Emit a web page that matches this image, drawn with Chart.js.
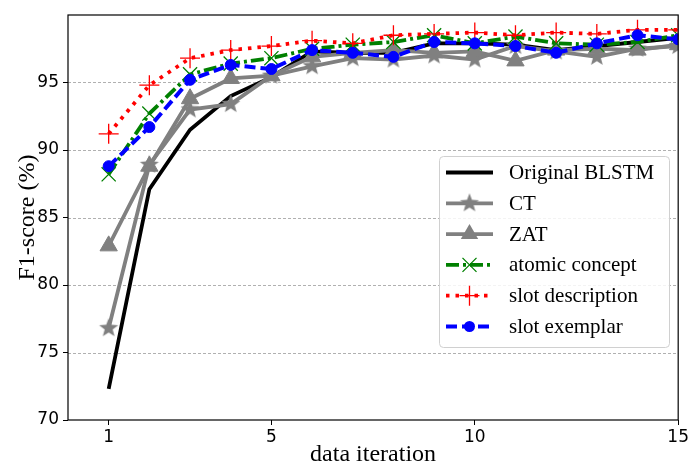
<!DOCTYPE html>
<html>
<head>
<meta charset="utf-8">
<script src="https://cdn.jsdelivr.net/npm/chart.js@4/dist/chart.umd.min.js"></script>
<style>
  html, body { margin: 0; padding: 0; background: #fff; }
  #wrap { width: 691px; height: 467px; }
</style>
</head>
<body>
<div id="wrap"><canvas id="chart"></canvas></div>
<script>
// x values (data iteration)
const iterations = [1, 2, 3, 4, 5, 6, 7, 8, 9, 10, 11, 12, 13, 14, 15];
const xTicks = [1, 5, 10, 15];
const yTicks = [70, 75, 80, 85, 90, 95];

// F1-score per series
const originalBlstm = [72.3, 87.1, 91.5, 94.0, 95.4, 97.3, 97.2, 97.2, 97.9, 97.9, 97.8, 97.4, 97.7, 98.0, 98.3];
const ctScores = [76.8, 88.9, 93.0, 93.4, 95.5, 96.2, 96.8, 96.7, 97.0, 96.7, 97.7, 97.3, 96.9, 97.5, 97.7];
const zatScores = [82.9, 88.8, 93.8, 95.3, 95.5, 96.9, 97.2, 97.4, 97.2, 97.3, 96.6, 97.4, 97.5, 97.4, 97.8];
const atomicConcept = [88.2, 92.7, 95.6, 96.4, 96.8, 97.5, 97.8, 98.0, 98.5, 97.9, 98.4, 97.9, 97.8, 98.0, 98.5];
const slotDescription = [91.2, 94.8, 96.8, 97.4, 97.7, 98.1, 97.9, 98.5, 98.6, 98.7, 98.5, 98.7, 98.6, 98.9, 98.9];
const slotExemplar = [88.8, 91.7, 95.2, 96.3, 96.0, 97.4, 97.2, 96.9, 98.0, 97.9, 97.7, 97.2, 97.9, 98.5, 98.2];

const seriesNames = ["Original BLSTM", "CT", "ZAT", "atomic concept", "slot description", "slot exemplar"];

const toPoints = (arr) => arr.map((v, i) => ({ x: iterations[i], y: v }));

// filled star marker (matplotlib "*")
function makeStar(r, color) {
  const c = document.createElement("canvas");
  const s = Math.ceil(r * 2 + 2);
  c.width = s; c.height = s;
  const g = c.getContext("2d");
  g.fillStyle = color;
  g.beginPath();
  for (let i = 0; i < 10; i++) {
    const rad = i % 2 === 0 ? r : r * 0.42;
    const a = -Math.PI / 2 + i * Math.PI / 5;
    const px = s / 2 + rad * Math.cos(a), py = s / 2 + rad * Math.sin(a);
    if (i === 0) g.moveTo(px, py); else g.lineTo(px, py);
  }
  g.closePath();
  g.fill();
  return c;
}
const starImg = makeStar(10, "#808080");

const styles = [
  { color: "#000000", dash: [], width: 3.8, point: false, radius: 0 },
  { color: "#808080", dash: [], width: 3.8, point: starImg, radius: 10 },
  { color: "#808080", dash: [], width: 3.8, point: "triangle", radius: 10 },
  { color: "#008000", dash: [13, 4, 3, 4], width: 3.8, point: "crossRot", radius: 10, pw: 1.3 },
  { color: "#ff0000", dash: [3.5, 6], width: 3.8, point: "cross", radius: 10, pw: 1.3 },
  { color: "#0000ff", dash: [11, 5], width: 4, point: "circle", radius: 5.5 }
];
const seriesData = [originalBlstm, ctScores, zatScores, atomicConcept, slotDescription, slotExemplar];

const datasets = seriesData.map((d, i) => {
  const s = styles[i];
  return {
    label: seriesNames[i],
    data: toPoints(d),
    borderColor: s.color,
    backgroundColor: s.color,
    borderWidth: s.width,
    borderDash: s.dash,
    pointStyle: s.point,
    pointRadius: s.radius,
    pointBorderWidth: s.pw || 1,
    pointBorderColor: s.color,
    pointBackgroundColor: s.color,
    tension: 0,
    order: 5 - i
  };
});

// dashed horizontal grid drawn under the lines
const gridPlugin = {
  id: "dashgrid",
  beforeDatasetsDraw(chart) {
    const { ctx, chartArea: a, scales } = chart;
    ctx.save();
    ctx.strokeStyle = "#b0b0b0";
    ctx.lineWidth = 1;
    ctx.setLineDash([3, 2]);
    yTicks.forEach(v => {
      if (v === 70) return;
      const y = Math.round(scales.y.getPixelForValue(v)) + 0.5;
      ctx.beginPath();
      ctx.moveTo(a.left, y);
      ctx.lineTo(a.right, y);
      ctx.stroke();
    });
    ctx.restore();
  }
};

// frame + legend drawn inside the plot
const framePlugin = {
  id: "frame",
  afterDatasetsDraw(chart) {
    const { ctx, chartArea: a } = chart;
    ctx.save();
    ctx.strokeStyle = "#000";
    ctx.lineWidth = 1.2;
    ctx.strokeRect(a.left, a.top, a.right - a.left, a.bottom - a.top);

    // legend box
    const bx = 439.5, by = 156.5, bw = 230, bh = 191, rr = 4;
    ctx.fillStyle = "rgba(255,255,255,0.85)";
    ctx.strokeStyle = "#d0d0d0";
    ctx.lineWidth = 1;
    ctx.beginPath();
    ctx.roundRect(bx, by, bw, bh, rr);
    ctx.fill();
    ctx.stroke();

    ctx.font = '21px "Liberation Serif", "Times New Roman", serif';
    ctx.textBaseline = "middle";
    chart.data.datasets.forEach((ds, i) => {
      const s = styles[i];
      const y = 172.5 + i * 30.8;
      const x0 = 446, x1 = 493, xm = (x0 + x1) / 2;
      ctx.strokeStyle = s.color;
      ctx.lineWidth = s.width;
      ctx.setLineDash(s.dash);
      ctx.beginPath();
      ctx.moveTo(x0, y);
      ctx.lineTo(x1, y);
      ctx.stroke();
      ctx.setLineDash([]);
      ctx.fillStyle = s.color;
      ctx.lineWidth = s.pw || 1;
      if (s.point === starImg) {
        ctx.drawImage(starImg, xm - starImg.width / 2, y - starImg.height / 2);
      } else if (s.point === "triangle") {
        const r = 10;
        ctx.beginPath();
        ctx.moveTo(xm, y - r);
        ctx.lineTo(xm + r * 0.87, y + r * 0.5);
        ctx.lineTo(xm - r * 0.87, y + r * 0.5);
        ctx.closePath();
        ctx.fill();
      } else if (s.point === "crossRot") {
        const r = 7;
        ctx.beginPath();
        ctx.moveTo(xm - r, y - r); ctx.lineTo(xm + r, y + r);
        ctx.moveTo(xm - r, y + r); ctx.lineTo(xm + r, y - r);
        ctx.stroke();
      } else if (s.point === "cross") {
        const r = 10;
        ctx.beginPath();
        ctx.moveTo(xm - r, y); ctx.lineTo(xm + r, y);
        ctx.moveTo(xm, y - r); ctx.lineTo(xm, y + r);
        ctx.stroke();
      } else if (s.point === "circle") {
        ctx.beginPath();
        ctx.arc(xm, y, s.radius, 0, Math.PI * 2);
        ctx.fill();
      }
      ctx.fillStyle = "#000";
      ctx.fillText(ds.label, 509, y + 1);
    });
    ctx.restore();
  }
};

new Chart(document.getElementById("chart"), {
  type: "line",
  data: { datasets: datasets },
  plugins: [gridPlugin, framePlugin],
  options: {
    responsive: true,
    maintainAspectRatio: false,
    animation: false,
    layout: { padding: { left: 0, right: 11, top: 15, bottom: 0 } },
    plugins: {
      legend: { display: false },
      tooltip: { enabled: false }
    },
    scales: {
      x: {
        type: "linear",
        min: 0,
        max: 15,
        afterBuildTicks: (scale) => { scale.ticks = xTicks.map(v => ({ value: v })); },
        afterFit: (scale) => { scale.height = 47; },
        grid: { drawOnChartArea: false, drawTicks: true, tickLength: 5, color: "#000", lineWidth: 1 },
        border: { display: false },
        ticks: {
          color: "#000",
          padding: 2,
          maxRotation: 0,
          font: { family: '"DejaVu Sans", sans-serif', size: 17 }
        },
        title: {
          display: true,
          text: "data iteration",
          color: "#000",
          padding: { top: 0, bottom: 0 },
          font: { family: '"Liberation Serif", "Times New Roman", serif', size: 24, lineHeight: 1 }
        }
      },
      y: {
        min: 70,
        max: 100,
        afterBuildTicks: (scale) => { scale.ticks = yTicks.map(v => ({ value: v })); },
        afterFit: (scale) => { scale.width = 68; },
        grid: {
          drawOnChartArea: false,
          color: "#000",
          lineWidth: 1,
          tickLength: 5
        },
        border: { display: false },
        ticks: {
          color: "#000",
          padding: 4,
          font: { family: '"DejaVu Sans", sans-serif', size: 17 }
        },
        title: {
          display: true,
          text: "F1-score (%)",
          color: "#000",
          padding: { top: 13, bottom: 0 },
          font: { family: '"Liberation Serif", "Times New Roman", serif', size: 24, lineHeight: 1.2 }
        }
      }
    }
  }
});
</script>
</body>
</html>
